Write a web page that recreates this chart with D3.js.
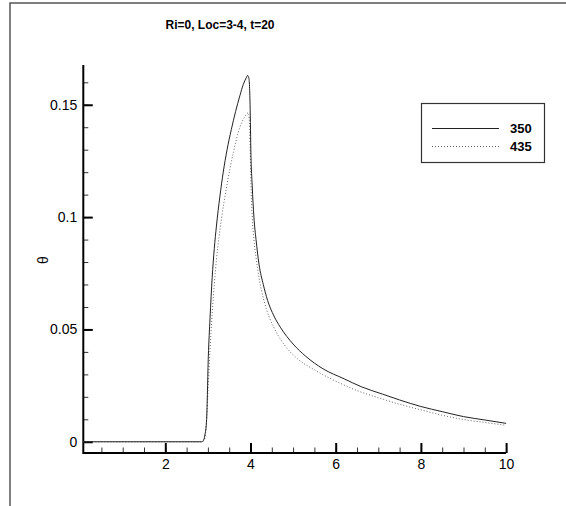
<!DOCTYPE html>
<html>
<head>
<meta charset="utf-8">
<script src="https://cdn.jsdelivr.net/npm/d3@7"></script>
<style>
  html, body { margin: 0; padding: 0; background: #fff; }
  svg { display: block; }
  text { font-family: "Liberation Sans", Arial, sans-serif; fill: #000; }
</style>
</head>
<body>
<svg id="chart" width="566" height="506"></svg>
<script>
// Temperature profile θ along the channel at t=20
const title = "Ri=0, Loc=3-4, t=20";
const yLabel = "θ";
const seriesNames = ["350", "435"];

const x350 = [0.075, 2.85, 2.89, 2.93, 2.97, 3.01, 3.05, 3.10, 3.15, 3.2, 3.28, 3.36, 3.45, 3.55, 3.65, 3.75, 3.83, 3.9, 3.93, 3.96, 3.975, 3.99, 4.01, 4.04, 4.08, 4.13, 4.2, 4.3, 4.4, 4.55, 4.7, 5.0, 5.3, 5.7, 6.2, 6.6, 7.1, 7.5, 8.0, 8.5, 9.0, 9.5, 10];
const y350 = [0, 0, 0.0005, 0.003, 0.010, 0.038, 0.055, 0.073, 0.086, 0.096, 0.109, 0.120, 0.130, 0.139, 0.147, 0.154, 0.159, 0.162, 0.163, 0.162, 0.159, 0.150, 0.128, 0.114, 0.100, 0.090, 0.079, 0.070, 0.063, 0.056, 0.051, 0.0435, 0.038, 0.0325, 0.028, 0.0245, 0.0212, 0.0186, 0.0157, 0.0134, 0.0112, 0.0097, 0.0082];

const x435 = [0.075, 2.88, 2.92, 2.96, 3.0, 3.05, 3.1, 3.15, 3.2, 3.26, 3.32, 3.44, 3.6, 3.75, 3.88, 3.95, 3.97, 3.99, 4.01, 4.04, 4.08, 4.13, 4.2, 4.3, 4.45, 4.6, 4.8, 5.1, 5.5, 6.0, 6.5, 7.0, 7.5, 8.0, 8.5, 9.0, 9.5, 10];
const y435 = [0, 0, 0.001, 0.007, 0.022, 0.041, 0.057, 0.070, 0.081, 0.091, 0.0995, 0.1135, 0.129, 0.140, 0.145, 0.1465, 0.144, 0.132, 0.115, 0.100, 0.090, 0.082, 0.073, 0.064, 0.055, 0.049, 0.043, 0.037, 0.032, 0.027, 0.0228, 0.0196, 0.0167, 0.0142, 0.0118, 0.0099, 0.0086, 0.0073];

const xTicks = [2, 4, 6, 8, 10];
const xMinorTicks = d3.range(0.5, 10.01, 0.5);
const yTicks = [0, 0.05, 0.1, 0.15];
const yTickLabels = ["0", "0.05", "0.1", "0.15"];
const yMinorTicks = d3.range(0, 0.1601, 0.01);

const svg = d3.select("#chart");

// outer frame
svg.append("path")
  .attr("d", "M10,506 L10,3 L566,3")
  .attr("fill", "none").attr("stroke", "#555").attr("stroke-width", 1.5);

const x = d3.scaleLinear().domain([0.075, 10]).range([83.3, 506.1]);
const y = d3.scaleLinear().domain([-0.005, 0.1677]).range([453, 65]);

// title
svg.append("text")
  .attr("x", 220).attr("y", 29)
  .attr("text-anchor", "middle")
  .attr("font-size", 12).attr("font-weight", "bold")
  .text(title);

// x axis
const gx = svg.append("g").attr("transform", `translate(0,${y.range()[0]})`);
gx.call(d3.axisBottom(x).tickValues(xMinorTicks).tickSize(-5.5).tickFormat(""))
  .call(g => g.selectAll(".tick line").attr("stroke", "#333").attr("stroke-width", 1))
  .call(g => g.select(".domain").remove());
const gxMajor = svg.append("g").attr("transform", `translate(0,${y.range()[0]})`);
gxMajor.call(d3.axisBottom(x).tickValues(xTicks).tickSize(-10).tickPadding(6).tickFormat(d3.format("d")))
  .call(g => g.selectAll(".tick line").attr("stroke", "#000").attr("stroke-width", 2))
  .call(g => g.select(".domain").remove())
  .call(g => g.selectAll(".tick text").attr("font-size", 14)
    .attr("font-family", "'Liberation Sans', Arial, sans-serif").attr("fill", "#000"));

// y axis
const gy = svg.append("g").attr("transform", `translate(${x.range()[0]},0)`);
gy.call(d3.axisLeft(y).tickValues(yMinorTicks).tickSize(-5).tickFormat(""))
  .call(g => g.selectAll(".tick line").attr("stroke", "#333").attr("stroke-width", 1))
  .call(g => g.select(".domain").remove());
const gyMajor = svg.append("g").attr("transform", `translate(${x.range()[0]},0)`);
gyMajor.call(d3.axisLeft(y).tickValues(yTicks).tickSize(-9.5).tickPadding(6)
    .tickFormat((d, i) => yTickLabels[i]))
  .call(g => g.selectAll(".tick line").attr("stroke", "#000").attr("stroke-width", 2))
  .call(g => g.select(".domain").remove())
  .call(g => g.selectAll(".tick text").attr("font-size", 14).attr("x", -6)
    .attr("font-family", "'Liberation Sans', Arial, sans-serif").attr("fill", "#000"));

// axis lines
svg.append("path")
  .attr("d", `M${x.range()[0]},${y.range()[1]} L${x.range()[0]},${y.range()[0]} L${x.range()[1]},${y.range()[0]}`)
  .attr("fill", "none").attr("stroke", "#000").attr("stroke-width", 2);

// y label
svg.append("text")
  .attr("transform", "translate(48,260) rotate(-90)")
  .attr("text-anchor", "middle")
  .attr("font-size", 14)
  .text(yLabel);

// curves
const line = d3.line().x(d => x(d[0])).y(d => y(d[1])).curve(d3.curveMonotoneX);
const d350 = x350.map((v, i) => [v, y350[i]]);
const d435 = x435.map((v, i) => [v, y435[i]]);

svg.append("path").datum(d435)
  .attr("d", line).attr("fill", "none")
  .attr("stroke", "#666").attr("stroke-width", 1).attr("stroke-dasharray", "1,2");
svg.append("path").datum(d350)
  .attr("d", line).attr("fill", "none")
  .attr("stroke", "#222").attr("stroke-width", 1);

// legend
const lg = svg.append("g");
lg.append("rect")
  .attr("x", 421.5).attr("y", 103.5).attr("width", 123).attr("height", 59)
  .attr("fill", "#fff").attr("stroke", "#333").attr("stroke-width", 1.2);
const legendRows = [
  { name: seriesNames[0], y: 128.5, stroke: "#222", dash: null },
  { name: seriesNames[1], y: 146.5, stroke: "#666", dash: "1,2" }
];
legendRows.forEach(r => {
  lg.append("line")
    .attr("x1", 432).attr("x2", 499).attr("y1", r.y).attr("y2", r.y)
    .attr("stroke", r.stroke).attr("stroke-width", 1)
    .attr("stroke-dasharray", r.dash);
  lg.append("text")
    .attr("x", 510).attr("y", r.y + 4.5)
    .attr("font-size", 13).attr("font-weight", "bold")
    .text(r.name);
});
</script>
</body>
</html>
